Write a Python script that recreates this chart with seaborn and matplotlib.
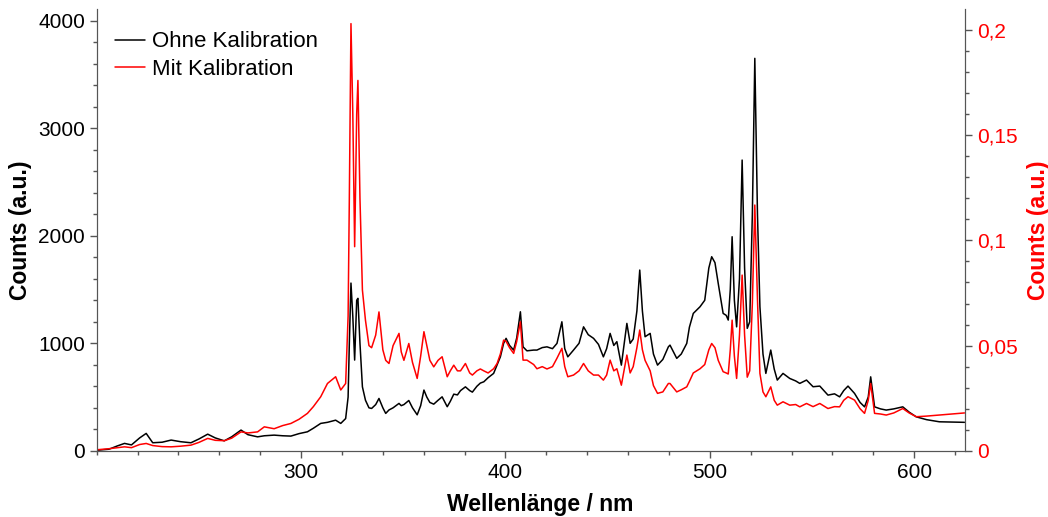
import matplotlib
matplotlib.use("Agg")
import matplotlib.pyplot as plt
from matplotlib.ticker import MultipleLocator, FixedLocator, FuncFormatter
import pandas as pd
import seaborn as sns

# wavelength grid (nm)
wavelength = [
    200, 206, 210, 213.6, 217, 221, 224.2, 227.4, 232, 236.4, 241, 246.1, 250,
    254.3, 258, 262.4, 266, 270.6, 274, 278.7, 282, 286.8, 291, 295, 299, 303.1,
    306, 309.6, 312.9, 316.9, 319.4, 321.8, 323.0, 323.6, 324.4, 325.3, 326.2,
    327.2, 327.8, 328.8, 330.0, 331.5, 333.2, 334.5, 336.5, 338.1, 340.0, 341.4,
    343.0, 345, 347.9, 349, 350.3, 352.7, 354.5, 356.8, 358.5, 360.1, 361.5, 363,
    364.9, 367, 369.0, 371.5, 373, 374.7, 376.5, 378.0, 380.4, 382.5, 383.8, 386,
    387.7, 389.4, 391.5, 394.2, 395.9, 397.5, 399.1, 400.3, 402, 404.0, 405.5,
    407.3, 408.6, 410.5, 413.8, 415.4, 418, 420.3, 423, 425.2, 427.6, 429, 430.5,
    433.3, 436, 438.2, 440.5, 443.1, 445.5, 447.9, 449.5, 451.2, 453, 454.5,
    456.7, 459.4, 461.0, 462.5, 464.3, 465.7, 467, 468.3, 470.8, 472.4, 474.4,
    477, 479.7, 480.5, 483.8, 486, 488.7, 490, 491.9, 495.2, 497.5, 499.5, 500.9,
    502.5, 504.1, 506.5, 508, 509.0, 510.0, 510.9, 512, 513.1, 514.5, 515.8, 517,
    518.3, 519.5, 520.8, 522.0, 523.3, 524.5, 526, 527.4, 529.8, 531.5, 533.0,
    535.8, 539.1, 542, 544.0, 547.3, 550.5, 553.8, 557.8, 561, 563.5, 565.5,
    567.6, 570.8, 573.5, 575.7, 577.5, 578.7, 580.6, 583.5, 586.3, 590, 594.4,
    597.5, 601.0, 606, 612.3, 618, 624.6,
]

# "Ohne Kalibration" (left axis, counts)
ohne = [
    5, 15, 45, 69, 55, 120, 162, 75, 80, 100, 85, 75, 110,
    155, 120, 93, 130, 193, 150, 130, 140, 146, 140, 137, 160, 177,
    210, 255, 265, 285, 255, 300, 500, 1000, 1560, 1250, 844,
    1400, 1418, 1000, 595, 470, 400, 394, 430, 487, 400, 348,
    380, 400, 441, 420, 430, 468, 400, 335, 420, 565, 500, 450,
    434, 470, 502, 410, 460, 527, 520, 560, 595, 560, 546, 600,
    630, 642, 680, 720, 800, 874, 1000, 1046, 980, 937, 1050,
    1293, 967, 930, 937, 937, 960, 967, 950, 999, 1200, 950, 874,
    937, 1000, 1153, 1080, 1046, 990, 874, 950, 1092, 980, 1015,
    797, 1185, 1000, 1040, 1300, 1681, 1300, 1061, 1092, 900, 797,
    850, 967, 983, 860, 900, 999, 1150, 1278, 1340, 1400, 1700, 1805,
    1750, 1557, 1278, 1260, 1216, 1500, 1991, 1400, 1153, 1600, 2704, 1700,
    1139, 1200, 2200, 3650, 2200, 1340, 900, 720, 937, 760, 658,
    720, 673, 650, 627, 658, 596, 602, 518, 530, 502, 560,
    602, 534, 450, 409, 500, 688, 409, 390, 379, 390, 409,
    360, 316, 290, 270, 268, 265,
]

# "Mit Kalibration" (right axis, a.u.)
mit = [
    0.0005, 0.001, 0.0015, 0.0019, 0.0015, 0.003, 0.0035, 0.0025, 0.002, 0.0019, 0.0022, 0.0027, 0.004,
    0.0059, 0.005, 0.0048, 0.006, 0.009, 0.0085, 0.009, 0.0114, 0.0105, 0.012, 0.013, 0.015, 0.0178,
    0.021, 0.0257, 0.032, 0.0352, 0.0289, 0.032, 0.064, 0.12, 0.203, 0.16, 0.097,
    0.16, 0.176, 0.12, 0.0764, 0.062, 0.05, 0.049, 0.055, 0.066, 0.048, 0.043,
    0.0415, 0.05, 0.0558, 0.047, 0.043, 0.051, 0.042, 0.0344, 0.045, 0.0566, 0.05, 0.043,
    0.0399, 0.043, 0.0447, 0.0352, 0.038, 0.0407, 0.038, 0.038, 0.0415, 0.037, 0.036, 0.038,
    0.0389, 0.038, 0.037, 0.039, 0.0415, 0.046, 0.0526, 0.052, 0.049, 0.0463, 0.052,
    0.0613, 0.0431, 0.0431, 0.041, 0.039, 0.04, 0.0389, 0.04, 0.044, 0.0487, 0.04, 0.0352,
    0.036, 0.038, 0.0415, 0.038, 0.036, 0.036, 0.0336, 0.036, 0.0431, 0.038, 0.039,
    0.0312, 0.0455, 0.037, 0.04, 0.049, 0.0574, 0.048, 0.043, 0.038, 0.031, 0.0273,
    0.028, 0.032, 0.032, 0.028, 0.029, 0.0304, 0.033, 0.037, 0.039, 0.041, 0.048, 0.051,
    0.049, 0.043, 0.0376, 0.037, 0.0365, 0.048, 0.0621, 0.045, 0.0344, 0.055, 0.0835, 0.055,
    0.035, 0.038, 0.07, 0.1168, 0.072, 0.0368, 0.028, 0.0257, 0.0304, 0.024, 0.0217,
    0.0233, 0.0217, 0.022, 0.0209, 0.0225, 0.021, 0.0225, 0.0201, 0.021, 0.0209, 0.024,
    0.0257, 0.0241, 0.02, 0.0178, 0.024, 0.032, 0.0178, 0.0175, 0.017, 0.018, 0.0201,
    0.018, 0.0162, 0.0165, 0.017, 0.0175, 0.018,
]

df = pd.DataFrame({"wl": wavelength, "ohne": ohne, "mit": mit})

sns.set_style("ticks")
plt.rcParams["font.family"] = ["Liberation Sans", "DejaVu Sans"]
plt.rcParams["text.color"] = "black"
plt.rcParams["axes.labelcolor"] = "black"

fig = plt.figure(figsize=(10.48, 5.17), dpi=100)
ax = fig.add_axes([0.0923, 0.128, 0.8288, 0.854])
ax2 = ax.twinx()

sns.lineplot(data=df, x="wl", y="ohne", ax=ax, color="black", lw=1.1,
             label="Ohne Kalibration", legend=False)
sns.lineplot(data=df, x="wl", y="mit", ax=ax2, color="red", lw=1.1,
             label="Mit Kalibration", legend=False)

ax.set_xlim(200, 625)
ax.set_ylim(0, 4106)
ax2.set_ylim(0, 0.2098)

ax.xaxis.set_major_locator(FixedLocator([300, 400, 500, 600]))
ax.xaxis.set_minor_locator(MultipleLocator(20))
ax.yaxis.set_major_locator(MultipleLocator(1000))
ax.yaxis.set_minor_locator(MultipleLocator(200))
ax2.yaxis.set_major_locator(MultipleLocator(0.05))
ax2.yaxis.set_minor_locator(MultipleLocator(0.01))
ax2.yaxis.set_major_formatter(FuncFormatter(lambda v, p: f"{v:g}".replace(".", ",")))

spine_col = "#555555"
for a in (ax, ax2):
    a.spines["top"].set_visible(False)
    for s in ("left", "right", "bottom"):
        a.spines[s].set_color(spine_col)
    a.tick_params(which="major", length=5, width=1, color=spine_col, labelsize=15)
    a.tick_params(which="minor", length=3, width=1, color=spine_col)
ax.tick_params(axis="both", labelcolor="black")
ax2.tick_params(axis="y", labelcolor="red")

ax.set_xlabel("Wellenlänge / nm", fontsize=16.5, fontweight="bold", color="black")
ax.set_ylabel("Counts (a.u.)", fontsize=16.5, fontweight="bold", color="black")
ax2.set_ylabel("Counts (a.u.)", fontsize=16.5, fontweight="bold", color="red")
ax.xaxis.set_label_coords(0.51, -0.096)
ax.yaxis.set_label_coords(-0.0745, 0.5)
ax2.yaxis.set_label_coords(1.071, 0.5)

h1, l1 = ax.get_legend_handles_labels()
h2, l2 = ax2.get_legend_handles_labels()
leg = ax2.legend(h1 + h2, l1 + l2, loc="upper left", bbox_to_anchor=(0.0, 0.99),
                 frameon=False, fontsize=16, handlelength=1.35, handletextpad=0.35,
                 labelspacing=0.3, borderaxespad=0.4)
for t in leg.get_texts():
    t.set_color("black")

fig.savefig("out.png", dpi=100)
